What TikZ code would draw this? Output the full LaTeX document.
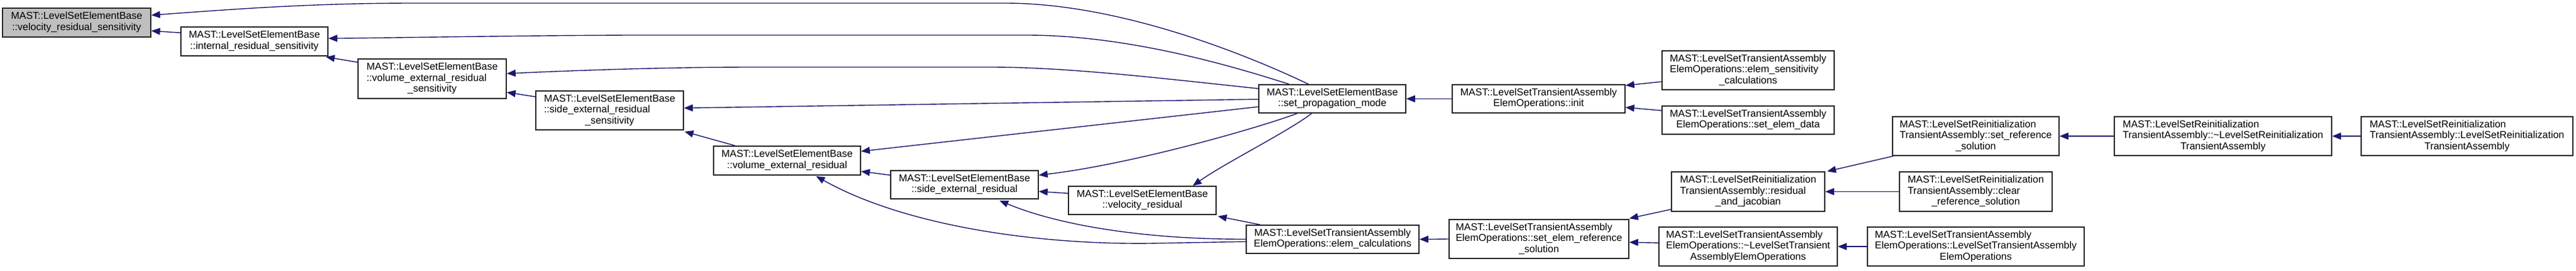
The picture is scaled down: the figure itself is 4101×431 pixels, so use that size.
\documentclass[tikz,border=0pt]{standalone}
\usepackage{fontspec}
\setmainfont{Liberation Sans}
\usetikzlibrary{arrows.meta,calc}
\definecolor{edgeblue}{HTML}{191970}
\definecolor{nodegray}{HTML}{BFBFBF}
\definecolor{boxline}{HTML}{262626}
\newcommand{\twol}[2]{\begin{tabular}{@{}c@{}}#1\\#2\end{tabular}}
\newcommand{\threel}[3]{\begin{tabular}{@{}l@{}}#1\\#2\\\multicolumn{1}{@{}c@{}}{#3}\end{tabular}}
\begin{document}
\begin{tikzpicture}[x=1pt,y=-1pt,
  fn/.style={draw=boxline, line width=1.6pt, fill=white, rectangle, inner sep=0pt,
    font=\fontsize{16}{17.5}\selectfont, text=black},
  edge/.style={draw=edgeblue, line width=1.4pt, -{Triangle[length=14pt,width=11pt]}}]
\useasboundingbox (0,0) rectangle (4101,431);
% nodes
\node[fn, fill=nodegray, minimum width=236pt, minimum height=46pt] (n1) at (122,36)
  {\twol{MAST::LevelSetElementBase}{::velocity\_residual\_sensitivity}};
\node[fn, minimum width=234pt, minimum height=46pt] (n2) at (405,66)
  {\twol{MAST::LevelSetElementBase}{::internal\_residual\_sensitivity}};
\node[fn, minimum width=236pt, minimum height=63pt] (n3) at (688,125.5)
  {\threel{MAST::LevelSetElementBase}{::volume\_external\_residual}{\_sensitivity}};
\node[fn, minimum width=235pt, minimum height=62pt] (n4) at (970.5,176)
  {\threel{MAST::LevelSetElementBase}{::side\_external\_residual}{\_sensitivity}};
\node[fn, minimum width=234pt, minimum height=46pt] (n5) at (1253,256)
  {\twol{MAST::LevelSetElementBase}{::volume\_external\_residual}};
\node[fn, minimum width=235pt, minimum height=45pt] (n6) at (1535.5,294.5)
  {\twol{MAST::LevelSetElementBase}{::side\_external\_residual}};
\node[fn, minimum width=235pt, minimum height=45pt] (n7) at (1818.5,319.5)
  {\twol{MAST::LevelSetElementBase}{::velocity\_residual}};
\node[fn, minimum width=234pt, minimum height=45pt] (n8) at (2121,157.5)
  {\twol{MAST::LevelSetElementBase}{::set\_propagation\_mode}};
\node[fn, minimum width=275pt, minimum height=45pt] (n9) at (2449.5,157.5)
  {\twol{MAST::LevelSetTransientAssembly}{ElemOperations::init}};
\node[fn, minimum width=275pt, minimum height=45pt] (n10) at (2121.5,381.5)
  {\twol{MAST::LevelSetTransientAssembly}{ElemOperations::elem\_calculations}};
\node[fn, minimum width=286pt, minimum height=62pt] (n11) at (2450,381)
  {\threel{MAST::LevelSetTransientAssembly}{ElemOperations::set\_elem\_reference}{\_solution}};
\node[fn, minimum width=274pt, minimum height=62pt] (n12) at (2783,112)
  {\threel{MAST::LevelSetTransientAssembly}{ElemOperations::elem\_sensitivity}{\_calculations}};
\node[fn, minimum width=274pt, minimum height=45pt] (n13) at (2783,191.5)
  {\twol{MAST::LevelSetTransientAssembly}{ElemOperations::set\_elem\_data}};
\node[fn, minimum width=244pt, minimum height=63pt] (n14) at (2783,305.5)
  {\threel{MAST::LevelSetReinitialization}{TransientAssembly::residual}{\_and\_jacobian}};
\node[fn, minimum width=284pt, minimum height=62pt] (n15) at (2783,393)
  {\threel{MAST::LevelSetTransientAssembly}{ElemOperations::\textasciitilde LevelSetTransient}{AssemblyElemOperations}};
\node[fn, minimum width=265pt, minimum height=62pt] (n16) at (3145.5,217)
  {\threel{MAST::LevelSetReinitialization}{TransientAssembly::set\_reference}{\_solution}};
\node[fn, minimum width=243pt, minimum height=63pt] (n17) at (3145.5,305.5)
  {\threel{MAST::LevelSetReinitialization}{TransientAssembly::clear}{\_reference\_solution}};
\node[fn, minimum width=345pt, minimum height=62pt] (n18) at (3145.5,393)
  {\threel{MAST::LevelSetTransientAssembly}{ElemOperations::LevelSetTransientAssembly}{ElemOperations}};
\node[fn, minimum width=346pt, minimum height=62pt] (n19) at (3539,217)
  {\threel{MAST::LevelSetReinitialization}{TransientAssembly::\textasciitilde LevelSetReinitialization}{TransientAssembly}};
\node[fn, minimum width=337pt, minimum height=62pt] (n20) at (3927.5,217)
  {\threel{MAST::LevelSetReinitialization}{TransientAssembly::LevelSetReinitialization}{TransientAssembly}};
% edges
\draw[edge] ($(n8.north west)+(80,0)$) .. controls (1980,85) and (1780,5) .. (1600,5)
  -- (660,5) .. controls (500,5) and (380,14) .. ($(n1.north east)+(0,12)$);
\draw[edge] ($(n2.north west)+(0,10)$) -- ($(n1.north east)+(0,37)$);
\draw[edge] ($(n8.north west)+(49,0)$) .. controls (1970,108) and (1800,56) .. (1634,56)
  -- (1000,56) .. controls (800,57) and (650,60) .. ($(n2.north east)+(0,19)$);
\draw[edge] ($(n3.north west)+(0,6)$) -- ($(n2.south east)+(-4,1)$);
\draw[edge] ($(n8.north west)+(0,7)$) .. controls (1850,125) and (1700,107) .. (1577,107)
  -- (1200,107) .. controls (1050,107) and (900,113) .. ($(n3.north east)+(0,24)$);
\draw[edge] ($(n4.north west)+(0,10)$) -- ($(n3.north east)+(0,54)$);
\draw[edge] ($(n8.north west)+(0,24)$) -- ($(n4.north east)+(0,28)$);
\draw[edge] ($(n5.north west)+(35,0)$) -- ($(n4.south east)+(1,2)$);
\draw[edge] ($(n8.north west)+(0,36)$) -- ($(n5.north east)+(0,9)$);
\draw[edge] ($(n6.north west)+(0,8)$) -- ($(n5.north east)+(0,41)$);
\draw[edge] ($(n10.north west)+(0,27)$) -- (1830,388) .. controls (1650,390) and (1440,360) .. ($(n5.south west)+(164,1)$);
\draw[edge] ($(n8.south west)+(62,0)$) .. controls (2000,205) and (1800,262) .. ($(n6.north east)+(0,8)$);
\draw[edge] ($(n7.north west)+(0,12)$) -- ($(n6.north east)+(0,34)$);
\draw[edge] ($(n10.north west)+(0,23)$) .. controls (1850,382) and (1700,365) .. ($(n6.south west)+(174,2)$);
\draw[edge] ($(n8.south west)+(85,0)$) .. controls (2050,210) and (1950,260) .. ($(n7.north east)+(-38,0)$);
\draw[edge] ($(n10.north west)+(23,0)$) -- ($(n7.south east)+(2,2)$);
\draw[edge] (n9.west) -- (n8.east);
\draw[edge] ($(n12.north west)+(0,50)$) -- ($(n9.north east)+(0,2)$);
\draw[edge] ($(n13.north west)+(0,8)$) -- ($(n9.north east)+(0,37)$);
\draw[edge] (n11.west) -- (n10.east);
\draw[edge] ($(n14.south west)+(0,-4)$) -- ($(n11.north east)+(0,-1)$);
\draw[edge] ($(n15.north west)+(0,26)$) -- ($(n11.north east)+(0,37)$);
\draw[edge] ($(n16.south west)+(2,0)$) -- ($(n14.north east)+(3,0)$);
\draw[edge] (n17.west) -- (n14.east);
\draw[edge] (n18.west) -- (n15.east);
\draw[edge] (n19.west) -- (n16.east);
\draw[edge] (n20.west) -- (n19.east);
\end{tikzpicture}
\end{document}
